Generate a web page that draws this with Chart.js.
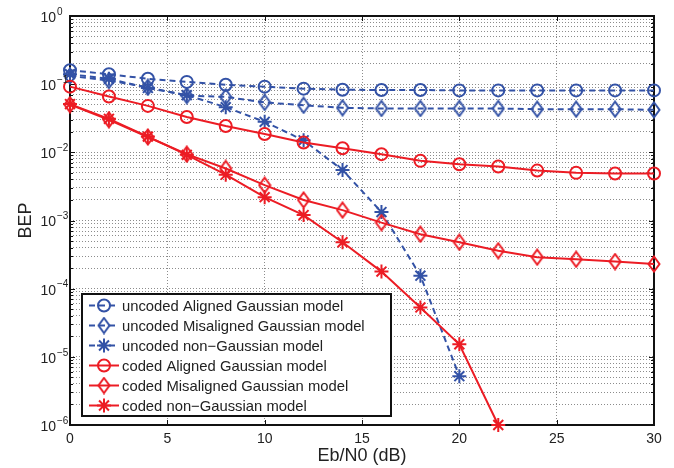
<!DOCTYPE html>
<html>
<head>
<meta charset="utf-8">
<script src="https://cdn.jsdelivr.net/npm/chart.js@4.4.0/dist/chart.umd.min.js"></script>
<style>
  html, body { margin: 0; padding: 0; background: #fff; }
</style>
</head>
<body>
<canvas id="chart" width="674" height="468"></canvas>
<script>
// Eb/N0 (dB) values and BEP
var snr = [0, 2, 4, 6, 8, 10, 12, 14, 16, 18, 20, 22, 24, 26, 28, 30];
var uncodedAligned = [0.16, 0.14, 0.12, 0.108, 0.098, 0.092, 0.086, 0.083, 0.082, 0.082, 0.081, 0.081, 0.081, 0.081, 0.081, 0.081];
var uncodedMisaligned = [0.132, 0.113, 0.09, 0.068, 0.065, 0.054, 0.049, 0.045, 0.044, 0.044, 0.044, 0.044, 0.043, 0.043, 0.043, 0.042];
var uncodedNonGaussian = [0.14, 0.12, 0.088, 0.069, 0.046, 0.028, 0.015, 0.0055, 0.00133, 0.000155, 0.0000052];
var codedAligned = [0.092, 0.066, 0.048, 0.033, 0.0243, 0.0186, 0.0139, 0.0115, 0.0094, 0.0075, 0.0067, 0.0062, 0.0054, 0.005, 0.0049, 0.0049];
var codedMisaligned = [0.05, 0.03, 0.0168, 0.0094, 0.0058, 0.0033, 0.002, 0.00142, 0.00093, 0.00063, 0.00048, 0.00036, 0.00029, 0.00027, 0.00025, 0.00023];
var codedNonGaussian = [0.051, 0.031, 0.017, 0.0092, 0.0047, 0.0022, 0.0012, 0.00048, 0.000178, 0.000053, 0.0000153, 0.000001];

var xTicks = [0, 5, 10, 15, 20, 25, 30];
var yExps = [-6, -5, -4, -3, -2, -1, 0];
var seriesNames = [
  'uncoded Aligned Gaussian model',
  'uncoded Misaligned Gaussian model',
  'uncoded non\u2212Gaussian model',
  'coded Aligned Gaussian model',
  'coded Misaligned Gaussian model',
  'coded non\u2212Gaussian model'
];

var BLUE = '#3352a6';
var RED = '#ec1c24';
var FONT = "'Liberation Sans', Arial, sans-serif";

function pts(vals) {
  return vals.map(function (v, i) { return {x: snr[i], y: v}; });
}

// narrow matlab style diamond
function makeDiamond(color) {
  var c = document.createElement('canvas');
  c.width = 14; c.height = 18;
  var g = c.getContext('2d');
  g.strokeStyle = color;
  g.lineWidth = 2;
  g.beginPath();
  g.moveTo(7, 1.5); g.lineTo(12.5, 9); g.lineTo(7, 16.5); g.lineTo(1.5, 9);
  g.closePath();
  g.stroke();
  return c;
}
var blueDiamond = makeDiamond(BLUE);
var redDiamond = makeDiamond(RED);

function series(i, vals, color, marker, dashed) {
  var style = marker;
  if (marker === 'diamond') style = color === BLUE ? blueDiamond : redDiamond;
  return {
    label: seriesNames[i],
    data: pts(vals),
    borderColor: color,
    backgroundColor: 'rgba(0,0,0,0)',
    borderWidth: 2,
    borderDash: dashed ? [6, 4] : [],
    pointStyle: style,
    pointRadius: marker === 'star' ? 7 : 6,
    pointBorderWidth: 2,
    pointBorderColor: color,
    pointBackgroundColor: 'rgba(0,0,0,0)',
    tension: 0,
    clip: false,
    order: dashed ? 1 : 0,
    _marker: marker
  };
}

var datasets = [
  series(0, uncodedAligned, BLUE, 'circle', true),
  series(1, uncodedMisaligned, BLUE, 'diamond', true),
  series(2, uncodedNonGaussian, BLUE, 'star', true),
  series(3, codedAligned, RED, 'circle', false),
  series(4, codedMisaligned, RED, 'diamond', false),
  series(5, codedNonGaussian, RED, 'star', false)
];

function drawMarker(ctx, kind, color, x, y) {
  ctx.save();
  ctx.strokeStyle = color;
  ctx.lineWidth = 2;
  ctx.setLineDash([]);
  if (kind === 'circle') {
    ctx.beginPath();
    ctx.arc(x, y, 6, 0, Math.PI * 2);
    ctx.stroke();
  } else if (kind === 'diamond') {
    var img = color === BLUE ? blueDiamond : redDiamond;
    ctx.drawImage(img, x - img.width / 2, y - img.height / 2);
  } else {
    ctx.beginPath();
    for (var a = 0; a < 4; a++) {
      var ang = a * Math.PI / 4;
      ctx.moveTo(x - Math.cos(ang) * 7, y - Math.sin(ang) * 7);
      ctx.lineTo(x + Math.cos(ang) * 7, y + Math.sin(ang) * 7);
    }
    ctx.stroke();
  }
  ctx.restore();
}

var framePlugin = {
  id: 'frame',
  beforeDatasetsDraw: function (chart) {
    var ctx = chart.ctx, a = chart.chartArea;
    var xs = chart.scales.x, ys = chart.scales.y;
    ctx.save();
    ctx.strokeStyle = '#111';
    ctx.lineWidth = 1;
    ctx.beginPath();
    xTicks.forEach(function (v) {
      var px = Math.round(xs.getPixelForValue(v)) + 0.5;
      ctx.moveTo(px, a.bottom); ctx.lineTo(px, a.bottom - 5);
      ctx.moveTo(px, a.top); ctx.lineTo(px, a.top + 5);
    });
    ys.ticks.forEach(function (t) {
      var py = Math.round(ys.getPixelForValue(t.value)) + 0.5;
      var len = t.major ? 5 : 3;
      ctx.moveTo(a.left, py); ctx.lineTo(a.left + len, py);
      ctx.moveTo(a.right, py); ctx.lineTo(a.right - len, py);
    });
    ctx.stroke();
    ctx.lineWidth = 2;
    ctx.strokeRect(a.left, a.top, a.right - a.left, a.bottom - a.top);
    ctx.restore();
  },
  afterDraw: function (chart) {
    var ctx = chart.ctx;
    var ys = chart.scales.y;
    ctx.save();
    // y tick labels 10^n
    ctx.fillStyle = '#222';
    yExps.forEach(function (e) {
      var py = ys.getPixelForValue(Math.pow(10, e));
      ctx.font = '14px ' + FONT;
      ctx.textAlign = 'right';
      ctx.textBaseline = 'middle';
      ctx.fillText('10', 56, py + 2);
      ctx.font = '10px ' + FONT;
      ctx.textAlign = 'left';
      ctx.fillText(e === 0 ? '0' : '\u2212' + (-e), 57, py - 4);
    });

    // legend
    var bx = 82, by = 294, bw = 309, bh = 122;
    ctx.fillStyle = '#fff';
    ctx.fillRect(bx, by, bw, bh);
    ctx.strokeStyle = '#111';
    ctx.lineWidth = 2;
    ctx.strokeRect(bx, by, bw, bh);
    ctx.font = '14.8px ' + FONT;
    ctx.textAlign = 'left';
    ctx.textBaseline = 'middle';
    datasets.forEach(function (ds, i) {
      var y = 305.5 + i * 20;
      ctx.save();
      ctx.strokeStyle = ds.borderColor;
      ctx.lineWidth = 2;
      ctx.setLineDash(ds.borderDash);
      ctx.beginPath();
      ctx.moveTo(89, y); ctx.lineTo(119, y);
      ctx.stroke();
      ctx.restore();
      drawMarker(ctx, ds._marker, ds.borderColor, 104, y);
      ctx.fillStyle = '#222';
      ctx.fillText(ds.label, 122, y + 1);
    });
    ctx.restore();
  }
};

var ctx = document.getElementById('chart');
var myChart = new Chart(ctx, {
  type: 'line',
  data: { datasets: datasets },
  options: {
    responsive: false,
    animation: false,
    devicePixelRatio: 1,
    layout: { padding: { left: 0, right: 20, top: 16, bottom: 0 } },
    plugins: { legend: { display: false }, tooltip: { enabled: false } },
    scales: {
      x: {
        type: 'linear',
        min: 0,
        max: 30,
        afterBuildTicks: function (s) {
          s.ticks = xTicks.map(function (v) { return {value: v}; });
        },
        afterFit: function (s) { s.height = 43; },
        ticks: { font: { size: 14, family: FONT }, color: '#222', padding: 6, maxRotation: 0 },
        grid: { color: 'rgba(0,0,0,0.45)', drawTicks: false, lineWidth: 1 },
        border: { display: false, dash: [1, 2] },
        title: { display: true, text: 'Eb/N0 (dB)', color: '#222', font: { size: 18, family: FONT }, padding: { top: 0, bottom: 1 } }
      },
      y: {
        type: 'logarithmic',
        min: 1e-6,
        max: 1,
        afterBuildTicks: function (s) {
          var t = [];
          yExps.forEach(function (e) {
            for (var m = 1; m <= 9; m++) {
              var v = m * Math.pow(10, e);
              if (v <= 1) t.push({value: v, major: m === 1});
            }
          });
          s.ticks = t;
        },
        afterFit: function (s) { s.width = 70; },
        ticks: { display: false, autoSkip: false },
        grid: { color: 'rgba(0,0,0,0.45)', drawTicks: false, lineWidth: 1 },
        border: { display: false, dash: [1, 2] },
        title: { display: true, text: 'BEP', color: '#222', font: { size: 18, family: FONT }, padding: { top: 15, bottom: 0 } }
      }
    }
  },
  plugins: [framePlugin]
});
</script>
</body>
</html>
